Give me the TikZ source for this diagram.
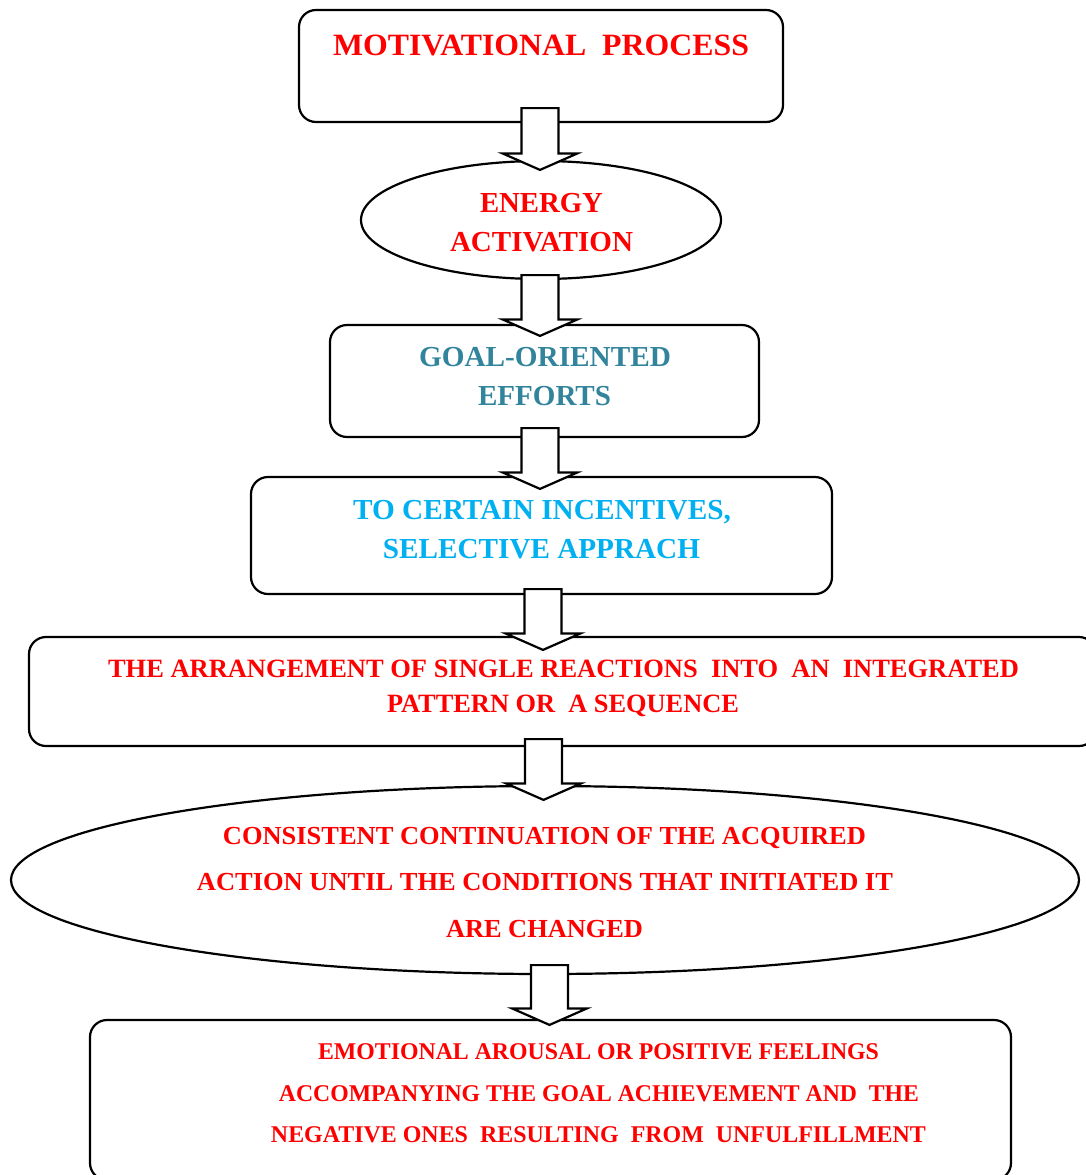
\documentclass[tikz,border=0pt]{standalone}
\usepackage{fontspec}
\setmainfont{Liberation Serif}
\usepackage{graphicx}
\usetikzlibrary{calc,shapes.geometric}
\definecolor{tealtxt}{HTML}{31849B}
\definecolor{cyantxt}{HTML}{00B0F0}
\newcommand\fitline[2]{\resizebox{#1pt}{\height}{#2}}
\newcommand\blockarr[2]{%
  \draw[barrow] let \p1=#1, \p2=#2 in
    (\x1-18.5pt,\y1) -- (\x1+18.5pt,\y1) -- (\x1+18.5pt,\y2+16.5pt) --
    (\x1+37.5pt,\y2+16.5pt) -- (\x1,\y2) -- (\x1-37.5pt,\y2+16.5pt) --
    (\x1-18.5pt,\y2+16.5pt) -- cycle;}
\tikzset{
  box/.style={draw, line width=2.2pt, rounded corners=17pt, rectangle, inner sep=0pt},
  oval/.style={draw, line width=2.2pt, ellipse, inner sep=0pt},
  barrow/.style={draw, fill=white, line width=2.2pt, line join=miter},
  txt/.style={anchor=base, inner sep=0pt, font=\bfseries},
}
\begin{document}
\begin{tikzpicture}[x=1pt,y=-1pt]
\useasboundingbox[fill=white] (0,0) rectangle (1085,1175);
% shapes
\node[box, minimum width=484pt, minimum height=112pt] (b1) at (541,66) {};
\node[oval, minimum width=360pt, minimum height=118pt] (e1) at (541,220) {};
\node[box, minimum width=429pt, minimum height=112pt] (b2) at (544.5,381) {};
\node[box, minimum width=581pt, minimum height=117pt] (b3) at (541.5,535.5) {};
\node[box, minimum width=1067pt, minimum height=109pt] (b4) at (562.5,691.5) {};
\node[oval, minimum width=1068pt, minimum height=188pt] (e2) at (545,880) {};
\node[box, minimum width=921pt, minimum height=160pt] (b6) at (550.5,1100) {};
% arrows
\blockarr{($(b1.south)+(-1,-15)$)}{($(e1.north)+(0,10)$)}
\blockarr{($(e1.south)+(-1,-5)$)}{($(b2.north)+(0,12)$)}
\blockarr{($(b2.south)+(-4.5,-10)$)}{($(b3.north)+(0,13)$)}
\blockarr{($(b3.south)+(1.5,-6)$)}{($(b4.north)+(0,14)$)}
\blockarr{($(b4.south)+(-19,-8)$)}{($(e2.north)+(0,15)$)}
\blockarr{($(e2.south)+(4.5,-10)$)}{($(b6.north)+(0,6)$)}
% texts
\begin{scope}[every node/.append style={txt}]
\node[text=red, font=\bfseries\fontsize{31}{31}\selectfont] (t1) at (541,55.3) {\fitline{416}{MOTIVATIONAL~~PROCESS}};
\node[text=red, font=\bfseries\fontsize{29}{29}\selectfont] (t2a) at (541.5,212.6) {\fitline{123}{ENERGY}};
\node[text=red, font=\bfseries\fontsize{29}{29}\selectfont] (t2b) at (541.5,251.6) {\fitline{183}{ACTIVATION}};
\node[text=tealtxt, font=\bfseries\fontsize{29}{29}\selectfont] (t3a) at (545,366.6) {\fitline{252}{GOAL-ORIENTED}};
\node[text=tealtxt, font=\bfseries\fontsize{29}{29}\selectfont] (t3b) at (544.5,405.6) {\fitline{133}{EFFORTS}};
\node[text=cyantxt, font=\bfseries\fontsize{29}{29}\selectfont] (t4a) at (542,519.6) {\fitline{378}{TO CERTAIN INCENTIVES,}};
\node[text=cyantxt, font=\bfseries\fontsize{29}{29}\selectfont] (t4b) at (541.5,558.6) {\fitline{317}{SELECTIVE APPRACH}};
\node[text=red, font=\bfseries\fontsize{26.4}{26.4}\selectfont] (t5a) at (563.5,677.7) {\fitline{911}{THE ARRANGEMENT OF SINGLE REACTIONS~~INTO~~AN~~INTEGRATED}};
\node[text=red, font=\bfseries\fontsize{26.4}{26.4}\selectfont] (t5b) at (563,712.7) {\fitline{352}{PATTERN OR~~A SEQUENCE}};
\node[text=red, font=\bfseries\fontsize{26}{26}\selectfont] (t6a) at (544.5,844.6) {\fitline{643}{CONSISTENT CONTINUATION OF THE ACQUIRED}};
\node[text=red, font=\bfseries\fontsize{26}{26}\selectfont] (t6b) at (545,890.6) {\fitline{696}{ACTION UNTIL THE CONDITIONS THAT INITIATED IT}};
\node[text=red, font=\bfseries\fontsize{26}{26}\selectfont] (t6c) at (544.5,937.6) {\fitline{197}{ARE CHANGED}};
\node[text=red, font=\bfseries\fontsize{24}{24}\selectfont] (t7a) at (598.5,1059.9) {\fitline{561}{EMOTIONAL AROUSAL OR POSITIVE FEELINGS}};
\node[text=red, font=\bfseries\fontsize{24}{24}\selectfont] (t7b) at (599,1101.9) {\fitline{640}{ACCOMPANYING THE GOAL ACHIEVEMENT AND~~THE}};
\node[text=red, font=\bfseries\fontsize{24}{24}\selectfont] (t7c) at (598.5,1142.9) {\fitline{655}{NEGATIVE ONES~~RESULTING~~FROM~~UNFULFILLMENT}};
\end{scope}
\end{tikzpicture}
\end{document}
